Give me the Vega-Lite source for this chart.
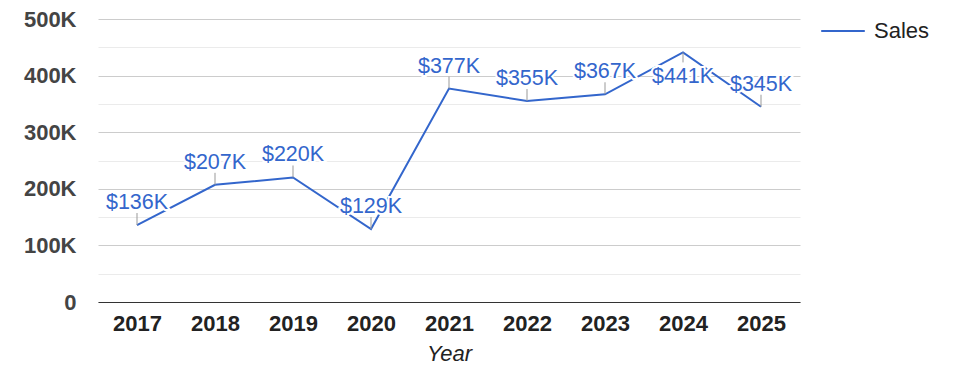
{
  "$schema": "https://vega.github.io/schema/vega-lite/v6.json",
  "autosize": "none",
  "width": 702,
  "height": 283,
  "padding": {"left": 98, "top": 19, "right": 175, "bottom": 76},
  "background": "white",
  "config": {
    "font": "Liberation Sans",
    "view": {"stroke": null}
  },
  "data": {
    "values": [
      {"Year": "2017", "Sales": 136000},
      {"Year": "2018", "Sales": 207000},
      {"Year": "2019", "Sales": 220000},
      {"Year": "2020", "Sales": 129000},
      {"Year": "2021", "Sales": 377000},
      {"Year": "2022", "Sales": 355000},
      {"Year": "2023", "Sales": 367000},
      {"Year": "2024", "Sales": 441000},
      {"Year": "2025", "Sales": 345000}
    ]
  },
  "transform": [
    {"calculate": "'$' + round(datum.Sales / 1000) + 'K'", "as": "label"}
  ],
  "encoding": {
    "x": {
      "field": "Year",
      "type": "ordinal",
      "scale": {"type": "point", "padding": 0.5},
      "axis": {
        "title": "Year",
        "titleFont": "Liberation Sans",
        "titleFontSize": 22,
        "titleFontStyle": "italic",
        "titleFontWeight": "normal",
        "titleColor": "#222222",
        "titlePadding": 9,
        "labelAngle": 0,
        "labelFontSize": 22,
        "labelFontWeight": "bold",
        "labelColor": "#222222",
        "labelPadding": 11,
        "ticks": false,
        "domainColor": "#333333",
        "domainWidth": 1,
        "grid": false
      }
    },
    "y": {
      "field": "Sales",
      "type": "quantitative",
      "scale": {"domain": [0, 500000], "nice": false},
      "axis": {
        "title": null,
        "values": [0, 50000, 100000, 150000, 200000, 250000, 300000, 350000, 400000, 450000, 500000],
        "labelExpr": "datum.value % 100000 === 0 ? (datum.value === 0 ? '0' : (datum.value / 1000) + 'K') : ''",
        "labelFontSize": 22,
        "labelFontWeight": "bold",
        "labelColor": "#444444",
        "labelPadding": 22,
        "ticks": false,
        "domain": false,
        "grid": true,
        "gridColor": {"condition": {"test": "datum.value % 100000 === 0", "value": "#cccccc"}, "value": "#ebebeb"},
        "gridWidth": 1
      }
    }
  },
  "layer": [
    {
      "mark": {"type": "line", "strokeWidth": 2},
      "encoding": {
        "color": {
          "datum": "Sales",
          "scale": {"range": ["#3366cc"]},
          "legend": {
            "title": null,
            "orient": "none",
            "legendX": 722,
            "legendY": -11,
            "symbolType": "stroke",
            "symbolSize": 1900,
            "symbolStrokeWidth": 2,
            "labelFontSize": 22,
            "labelColor": "#222222",
            "labelOffset": 8
          }
        }
      }
    },
    {
      "transform": [{"filter": "datum.Sales < 420000"}],
      "mark": {"type": "rule", "color": "#999999", "strokeWidth": 1, "y2Offset": -12},
      "encoding": {"y2": {"field": "Sales"}}
    },
    {
      "transform": [{"filter": "datum.Sales >= 420000"}],
      "mark": {"type": "rule", "color": "#999999", "strokeWidth": 1, "y2Offset": 10},
      "encoding": {"y2": {"field": "Sales"}}
    },
    {
      "transform": [{"filter": "datum.Sales < 420000"}],
      "mark": {"type": "text", "dy": -16, "baseline": "alphabetic", "fontSize": 21.5, "stroke": "white", "strokeWidth": 4, "fill": "white"},
      "encoding": {"text": {"field": "label"}}
    },
    {
      "transform": [{"filter": "datum.Sales < 420000"}],
      "mark": {"type": "text", "dy": -16, "baseline": "alphabetic", "fontSize": 21.5, "color": "#3366cc"},
      "encoding": {"text": {"field": "label"}}
    },
    {
      "transform": [{"filter": "datum.Sales >= 420000"}],
      "mark": {"type": "text", "dy": 14, "baseline": "top", "fontSize": 21.5, "stroke": "white", "strokeWidth": 4, "fill": "white"},
      "encoding": {"text": {"field": "label"}}
    },
    {
      "transform": [{"filter": "datum.Sales >= 420000"}],
      "mark": {"type": "text", "dy": 14, "baseline": "top", "fontSize": 21.5, "color": "#3366cc"},
      "encoding": {"text": {"field": "label"}}
    }
  ]
}
